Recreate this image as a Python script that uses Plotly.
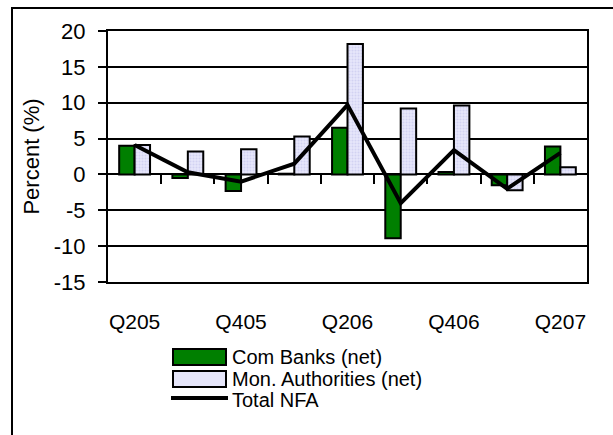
import plotly.graph_objects as go

# Quarterly contributions to net foreign assets growth
quarters = ["Q205", "Q305", "Q405", "Q106", "Q206", "Q306", "Q406", "Q107", "Q207"]
com_banks = [4.0, -0.5, -2.3, 0.1, 6.5, -8.9, 0.35, -1.5, 3.9]
mon_auth = [4.1, 3.2, 3.5, 5.3, 18.2, 9.2, 9.6, -2.2, 1.0]
total_nfa = [4.1, 0.3, -1.0, 1.5, 9.7, -4.0, 3.4, -2.0, 3.0]
shown_labels = ["Q205", "Q405", "Q206", "Q406", "Q207"]
y_ticks = [-15, -10, -5, 0, 5, 10, 15, 20]
y_tick_text = ["-15", "-10", "-5", "0", "5", "10", "15", "20"]

GREEN = "#007F00"
LAVENDER = "#E6E6FA"
LAV_DOT = "#BDBDEA"
FONT = "Liberation Sans, Arial, sans-serif"

W, H = 613, 435
L, R, T, B = 108, 587, 31, 282
y_min, y_max = -15, 20


def px_x(px):
    return (px - L) / (R - L)


def px_y(py):
    return (B - py) / (B - T)


fig = go.Figure()
fig.add_trace(go.Bar(
    x=quarters, y=com_banks, name="Com Banks (net)",
    marker=dict(color=GREEN, line=dict(color="black", width=2)),
))
fig.add_trace(go.Bar(
    x=quarters, y=mon_auth, name="Mon. Authorities (net)",
    marker=dict(color=LAVENDER, line=dict(color="black", width=2),
                pattern=dict(shape=".", fgcolor=LAV_DOT, bgcolor=LAVENDER,
                             size=3, solidity=0.35)),
))
fig.add_trace(go.Scatter(
    x=quarters, y=total_nfa, name="Total NFA", mode="lines",
    line=dict(color="black", width=4),
))
# Empty trace that carries the category-boundary tick axis drawn along y = 0
fig.add_trace(go.Scatter(
    x=[0], y=[0], xaxis="x2", mode="markers", marker=dict(opacity=0),
    hoverinfo="skip", showlegend=False,
))

# Legend built below the axis labels
legend_rows = [
    ("Com Banks (net)", "bar", GREEN, 357),
    ("Mon. Authorities (net)", "bar", LAVENDER, 379),
    ("Total NFA", "line", "black", 400),
]
shapes = []
annotations = []
for label, kind, color, cy in legend_rows:
    if kind == "bar":
        shapes.append(dict(type="rect", xref="paper", yref="paper",
                           x0=px_x(173), x1=px_x(226), y0=px_y(cy - 8), y1=px_y(cy + 8),
                           fillcolor=color, line=dict(color="black", width=2)))
    else:
        shapes.append(dict(type="line", xref="paper", yref="paper",
                           x0=px_x(171), x1=px_x(228), y0=px_y(cy - 2), y1=px_y(cy - 2),
                           line=dict(color="black", width=4)))
    annotations.append(dict(text=label, xref="paper", yref="paper",
                            x=px_x(230), y=px_y(cy), xanchor="left", yanchor="middle",
                            showarrow=False, font=dict(size=20, color="black", family=FONT)))

# Outer chart frame
shapes.append(dict(type="rect", xref="paper", yref="paper",
                   x0=px_x(12), x1=px_x(640), y0=px_y(460), y1=px_y(8),
                   line=dict(color="black", width=2), fillcolor="rgba(0,0,0,0)", layer="below"))

fig.update_layout(
    width=W, height=H,
    margin=dict(l=L, r=W - R, t=T, b=H - B, pad=0),
    paper_bgcolor="white", plot_bgcolor="white",
    barmode="group", bargap=0.42, bargroupgap=0,
    showlegend=False,
    font=dict(family=FONT, size=21, color="black"),
    xaxis=dict(
        type="category", categoryorder="array", categoryarray=quarters,
        range=[-0.5, len(quarters) - 0.5],
        tickmode="array", tickvals=shown_labels, ticktext=shown_labels,
        ticks="", showgrid=False, showline=True, linecolor="black", linewidth=2,
        mirror=True, ticklabelstandoff=20, tickfont=dict(size=21),
    ),
    xaxis2=dict(
        overlaying="x", anchor="free", position=(0 - y_min) / (y_max - y_min),
        range=[-0.5, len(quarters) - 0.5], type="linear",
        tickmode="array", tickvals=[i + 0.5 for i in range(len(quarters) - 1)],
        ticks="outside", ticklen=9, tickwidth=2, tickcolor="black",
        showticklabels=False, showgrid=False, showline=False, zeroline=False,
    ),
    yaxis=dict(
        range=[y_min, y_max], tickmode="array", tickvals=y_ticks, ticktext=y_tick_text,
        ticks="outside", ticklen=8,
        tickwidth=2, tickcolor="black", showgrid=True, gridcolor="black",
        gridwidth=2, zeroline=True, zerolinecolor="black", zerolinewidth=2,
        showline=True, linecolor="black", linewidth=2, mirror=True,
        tickfont=dict(size=22), ticklabelstandoff=8,
        title=dict(text="Percent (%)", font=dict(size=22), standoff=8),
    ),
    shapes=shapes,
    annotations=annotations,
)

fig.write_html("out.html")
